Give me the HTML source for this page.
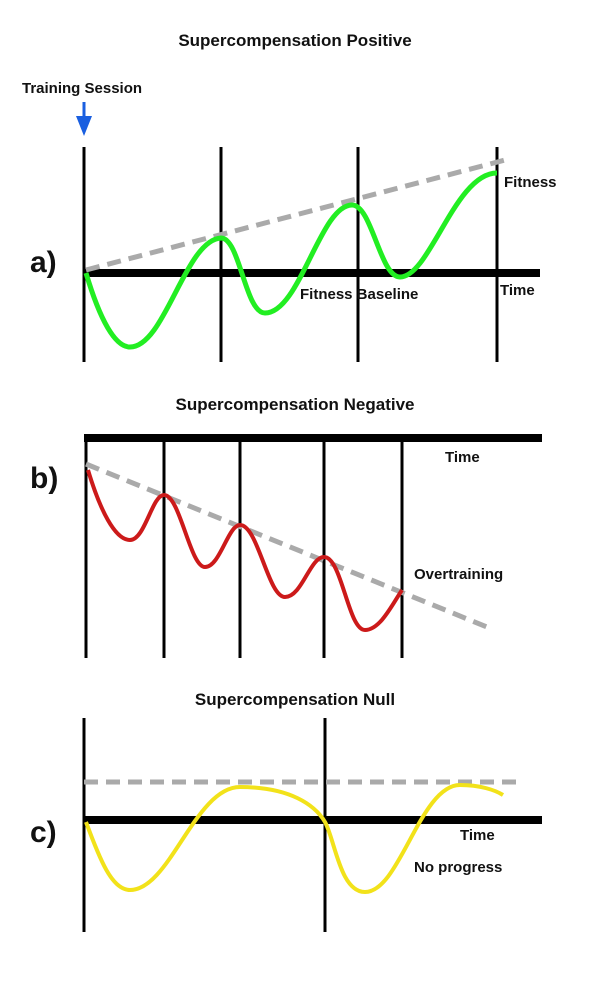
<!DOCTYPE html>
<html><head><meta charset="utf-8"><style>
html,body{margin:0;padding:0;background:#fff;}
svg{display:block;}
text{font-family:"Liberation Sans",sans-serif;fill:#111;}
.t{font-size:17px;font-weight:bold;}
.l{font-size:15px;font-weight:bold;}
.big{font-size:30px;font-weight:bold;}
</style></head><body>
<svg width="600" height="982" viewBox="0 0 600 982" xmlns="http://www.w3.org/2000/svg">
<!-- Panel a -->
<text class="t" x="295" y="46" text-anchor="middle">Supercompensation Positive</text>
<text class="l" x="22" y="93">Training Session</text>
<line x1="84" y1="102" x2="84" y2="120" stroke="#1a5fe0" stroke-width="3"/>
<polygon points="76,116 92,116 84,136" fill="#1a5fe0"/>
<g stroke="#000" stroke-width="3">
<line x1="84" y1="147" x2="84" y2="362"/>
<line x1="221" y1="147" x2="221" y2="362"/>
<line x1="358" y1="147" x2="358" y2="362"/>
<line x1="497" y1="147" x2="497" y2="362"/>
</g>
<line x1="84" y1="273" x2="540" y2="273" stroke="#000" stroke-width="8"/>
<line x1="86" y1="270" x2="505" y2="160" stroke="#aaa" stroke-width="5" stroke-dasharray="14,8"/>
<path d="M86,273 C100,320 115,347 130,347 C165,347 185,240 221,238 C240,238 245,313 265,313 C300,313 320,205 352,205 C372,205 380,277 400,277 C430,277 455,173 497,173" fill="none" stroke="#22ee22" stroke-width="5"/>
<text class="l" x="504" y="187">Fitness</text>
<text class="l" x="300" y="299">Fitness Baseline</text>
<text class="l" x="500" y="295">Time</text>
<text class="big" x="30" y="272">a)</text>
<!-- Panel b -->
<text class="t" x="295" y="410" text-anchor="middle">Supercompensation Negative</text>
<line x1="84" y1="438" x2="542" y2="438" stroke="#000" stroke-width="8"/>
<g stroke="#000" stroke-width="3">
<line x1="86" y1="438" x2="86" y2="658"/>
<line x1="164" y1="438" x2="164" y2="658"/>
<line x1="240" y1="438" x2="240" y2="658"/>
<line x1="324" y1="438" x2="324" y2="658"/>
<line x1="402" y1="438" x2="402" y2="658"/>
</g>
<line x1="86" y1="464" x2="487" y2="627" stroke="#aaa" stroke-width="5" stroke-dasharray="14,8"/>
<path d="M88,470 C100,510 115,540 130,540 C145,540 152,495 164,495 C180,495 190,567 205,567 C220,567 228,525 240,525 C258,525 268,597 285,597 C302,597 310,557 324,557 C342,557 348,630 365,630 C380,630 392,605 402,590" fill="none" stroke="#cc1a1a" stroke-width="4"/>
<text class="l" x="445" y="462">Time</text>
<text class="l" x="414" y="579">Overtraining</text>
<text class="big" x="30" y="488">b)</text>
<!-- Panel c -->
<text class="t" x="295" y="705" text-anchor="middle">Supercompensation Null</text>
<g stroke="#000" stroke-width="3">
<line x1="84" y1="718" x2="84" y2="932"/>
<line x1="325" y1="718" x2="325" y2="932"/>
</g>
<line x1="84" y1="820" x2="542" y2="820" stroke="#000" stroke-width="8"/>
<line x1="84" y1="782" x2="518" y2="782" stroke="#aaa" stroke-width="5" stroke-dasharray="14,8"/>
<path d="M86,822 C100,860 112,890 130,890 C170,890 195,787 240,787 C290,787 315,805 325,822 C335,840 340,892 365,892 C400,892 420,785 460,785 C480,785 495,790 503,795" fill="none" stroke="#f2e21a" stroke-width="4"/>
<text class="l" x="460" y="840">Time</text>
<text class="l" x="414" y="872">No progress</text>
<text class="big" x="30" y="842">c)</text>
</svg>
</body></html>
